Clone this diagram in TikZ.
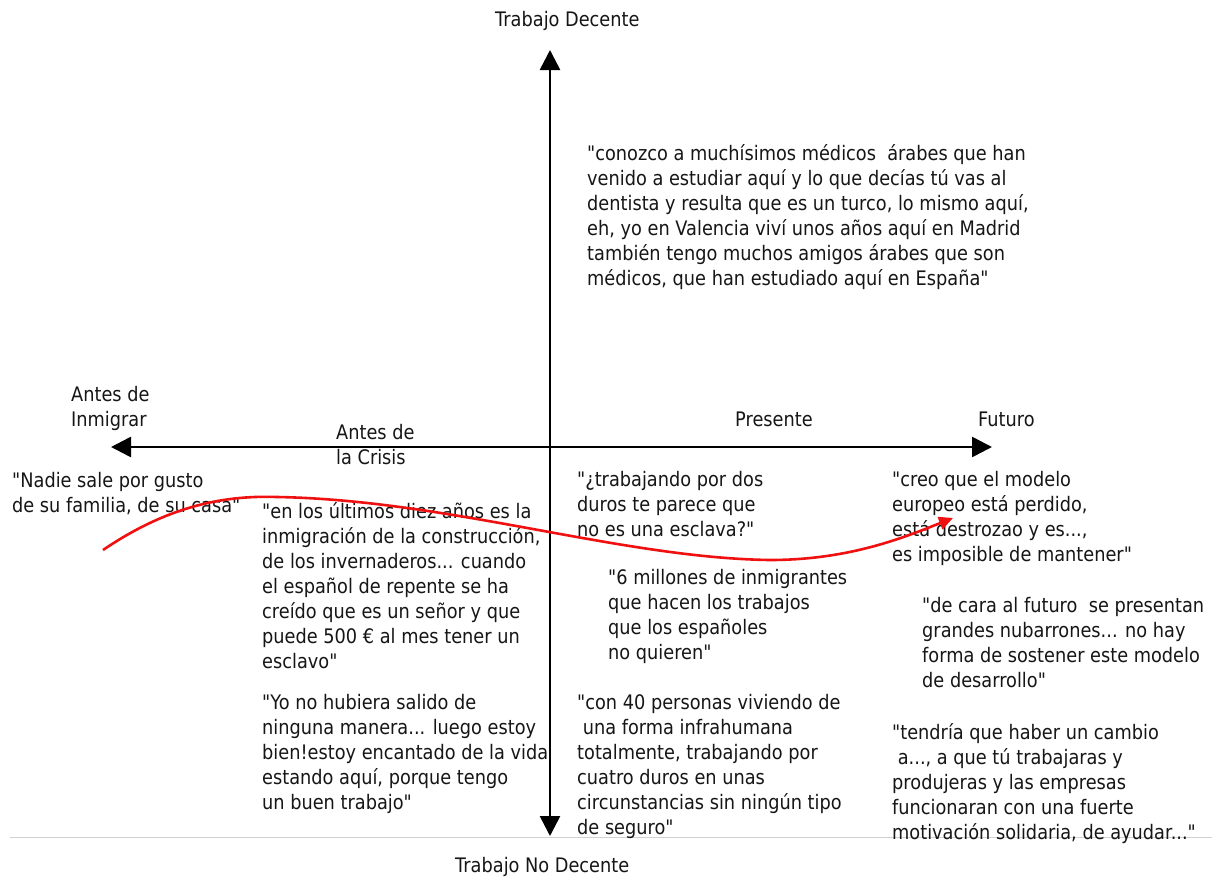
\documentclass[tikz,border=0pt]{standalone}
\usepackage{fontspec}
\setmainfont{DejaVu Sans}[FakeStretch=0.887,Ligatures=TeXOff]
\usetikzlibrary{arrows.meta}
\definecolor{ink}{HTML}{161616}
\definecolor{trend}{HTML}{F01010}
\begin{document}
\begin{tikzpicture}[x=1pt,y=-1pt,
  txt/.style={anchor=base west,inner sep=0pt,text=ink,font=\fontsize{20}{25}\selectfont},
  axis/.style={line width=2.6pt,draw=black,
    {Triangle[length=20pt,width=20pt]}-{Triangle[length=20pt,width=20pt]}},
  trendline/.style={line width=2.6pt,draw=trend,-{Triangle[length=14pt,width=13pt]}}]
\newcommand{\lines}[1]{\begin{tabular}[t]{@{}l@{}}#1\end{tabular}}
\useasboundingbox[fill=white] (0,0) rectangle (1218,878);

% frame line at the foot
\coordinate (fl) at (10,837);
\coordinate (fr) at (1212,837);
\draw[black!18,line width=1pt] (fl) -- (fr);

% axes
\coordinate (top) at (550,50);
\coordinate (bottom) at (550,836);
\coordinate (left) at (111,447);
\coordinate (right) at (992,447);
\draw[axis] (bottom) -- (top);
\draw[axis] (left) -- (right);

% axis labels
\node[txt] (decente) at (495,26) {Trabajo Decente};
\node[txt] (nodecente) at (455,872) {Trabajo No Decente};
\node[txt] (inmigrar) at (71,401) {\lines{Antes de\\Inmigrar}};
\node[txt] (crisis) at (336,439) {\lines{Antes de\\la Crisis}};
\node[txt] (presente) at (735,426) {Presente};
\node[txt] (futuro) at (978,426) {Futuro};

% quotes
\node[txt] (q1) at (587,160) {\lines{"conozco a muchísimos médicos \ árabes que han\\
venido a estudiar aquí y lo que decías tú vas al\\
dentista y resulta que es un turco, lo mismo aquí,\\
eh, yo en Valencia viví unos años aquí en Madrid\\
también tengo muchos amigos árabes que son\\
médicos, que han estudiado aquí en España"}};

\node[txt] (q2) at (12,487) {\lines{"Nadie sale por gusto\\de su familia, de su casa"}};

\node[txt] (q3) at (262,518) {\lines{"en los últimos diez años es la\\
inmigración de la construcción,\\
de los invernaderos... cuando\\
el español de repente se ha\\
creído que es un señor y que\\
puede 500 € al mes tener un\\
esclavo"}};

\node[txt] (q4) at (262,709) {\lines{"Yo no hubiera salido de\\
ninguna manera... luego estoy\\
bien!estoy encantado de la vida\\
estando aquí, porque tengo\\
un buen trabajo"}};

\node[txt] (q5) at (577,486) {\lines{"¿trabajando por dos\\
duros te parece que\\
no es una esclava?"}};

\node[txt] (q6) at (608,584) {\lines{"6 millones de inmigrantes\\
que hacen los trabajos\\
que los españoles\\
no quieren"}};

\node[txt] (q7) at (577,709) {\lines{"con 40 personas viviendo de\\
\ una forma infrahumana\\
totalmente, trabajando por\\
cuatro duros en unas\\
circunstancias sin ningún tipo\\
de seguro"}};

\node[txt] (q8) at (892,486) {\lines{"creo que el modelo\\
europeo está perdido,\\
está destrozao y es...,\\
es imposible de mantener"}};

\node[txt] (q9) at (922,612) {\lines{"de cara al futuro \ se presentan\\
grandes nubarrones... no hay\\
forma de sostener este modelo\\
de desarrollo"}};

\node[txt] (q10) at (892,739) {\lines{"tendría que haber un cambio\\
\ a..., a que tú trabajaras y\\
produjeras y las empresas\\
funcionaran con una fuerte\\
motivación solidaria, de ayudar..."}};

% trajectory from before emigrating to the future
\coordinate (rs) at (103,550);
\coordinate (rp) at (277,497);
\coordinate (rm) at (770,560);
\coordinate (re) at (953,518);
\draw[trendline] (rs) .. controls (165,508) and (220,495) .. (rp)
  .. controls (450,500) and (620,558) .. (rm)
  .. controls (850,560) and (905,537) .. (re);
\end{tikzpicture}
\end{document}
